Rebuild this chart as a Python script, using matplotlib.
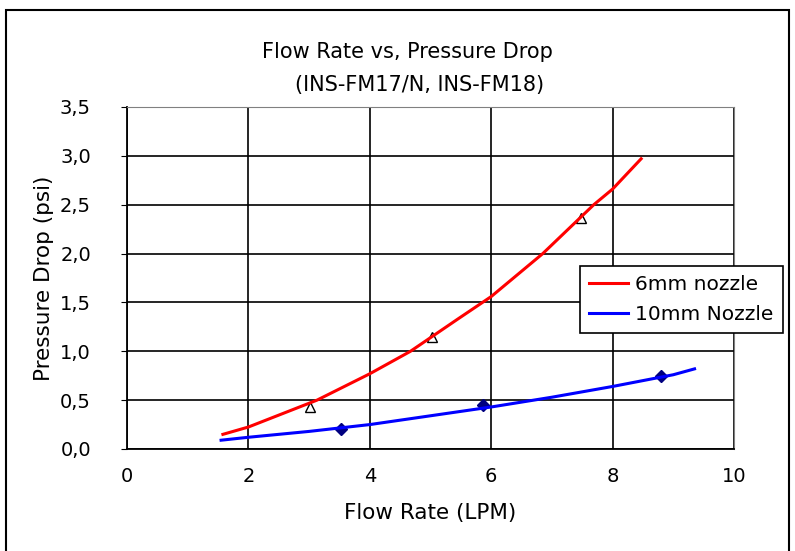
import matplotlib
matplotlib.use("Agg")
import matplotlib.pyplot as plt
from matplotlib.ticker import FuncFormatter
from matplotlib.patches import Rectangle

plt.rcParams['font.family'] = ['DejaVu Sans']

# fitted curves
red_x = [1.58, 2.0, 3.13, 4.0, 4.67, 5.45, 6.0, 6.85, 7.69, 8.0, 8.47]
red_y = [0.15, 0.225, 0.5, 0.77, 1.0, 1.33, 1.56, 2.0, 2.5, 2.66, 2.97]
blue_x = [1.55, 2.0, 3.0, 4.0, 5.0, 6.0, 7.0, 8.0, 9.0, 9.35]
blue_y = [0.09, 0.12, 0.18, 0.25, 0.34, 0.43, 0.53, 0.64, 0.76, 0.82]

# measured points
tri_x = [3.02, 5.03, 7.48]
tri_y = [0.43, 1.15, 2.36]
dia_x = [3.53, 5.87, 8.8]
dia_y = [0.2, 0.45, 0.75]

fig = plt.figure(figsize=(7.95, 5.51), dpi=100)
ax = fig.add_axes([127 / 795, 1 - 449 / 551, (734 - 127) / 795, (449 - 107) / 551])

# outer frame of the chart
fig.patches.append(Rectangle((6 / 795, -0.01), 783 / 795, 1 - 10 / 551 + 0.01,
                             transform=fig.transFigure, fill=False,
                             edgecolor='black', linewidth=1.5))

ax.plot(red_x, red_y, color='red', linewidth=2.2, label='6mm nozzle', zorder=3)
ax.plot(blue_x, blue_y, color='blue', linewidth=2.2, label='10mm Nozzle', zorder=3)
ax.plot(tri_x, tri_y, linestyle='none', marker='^', markersize=7,
        markerfacecolor='white', markeredgecolor='black', markeredgewidth=1, zorder=2)
ax.plot(dia_x, dia_y, linestyle='none', marker='D', markersize=6,
        color='#000080', zorder=2)

ax.set_xlim(0, 10)
ax.set_ylim(0, 3.5)
ax.set_xticks([0, 2, 4, 6, 8, 10])
ax.set_yticks([0, 0.5, 1.0, 1.5, 2.0, 2.5, 3.0, 3.5])
ax.yaxis.set_major_formatter(FuncFormatter(lambda v, p: f"{v:.1f}".replace('.', ',')))
ax.grid(True, color='black', linewidth=1.2)
ax.set_axisbelow(True)
ax.tick_params(axis='x', length=0, labelsize=14, pad=13)
ax.tick_params(axis='y', length=4, labelsize=14, pad=22)
for s in ['top', 'right']:
    ax.spines[s].set_color('#808080')
for s in ['left', 'bottom']:
    ax.spines[s].set_linewidth(1.3)

ax.set_xlabel('Flow Rate (LPM)', fontsize=15.5, labelpad=12)
ax.set_ylabel('Pressure Drop (psi)', fontsize=15.5, labelpad=4)

fig.text(407 / 795, 1 - 52 / 551, 'Flow Rate vs, Pressure Drop', fontsize=15,
         ha='center', va='center')
fig.text(420 / 795, 1 - 85 / 551, '(INS-FM17/N, INS-FM18)', fontsize=15,
         ha='center', va='center')

leg = ax.legend(loc='upper left', bbox_to_anchor=(580 / 795, 1 - 266 / 551),
                bbox_transform=fig.transFigure, fontsize=14.5, frameon=True,
                fancybox=False, framealpha=1, edgecolor='black',
                handlelength=1.95, borderpad=0.45, labelspacing=0.55, handletextpad=0.35,
                borderaxespad=0)
leg.get_frame().set_linewidth(1.2)

fig.savefig('out.png', dpi=100)
